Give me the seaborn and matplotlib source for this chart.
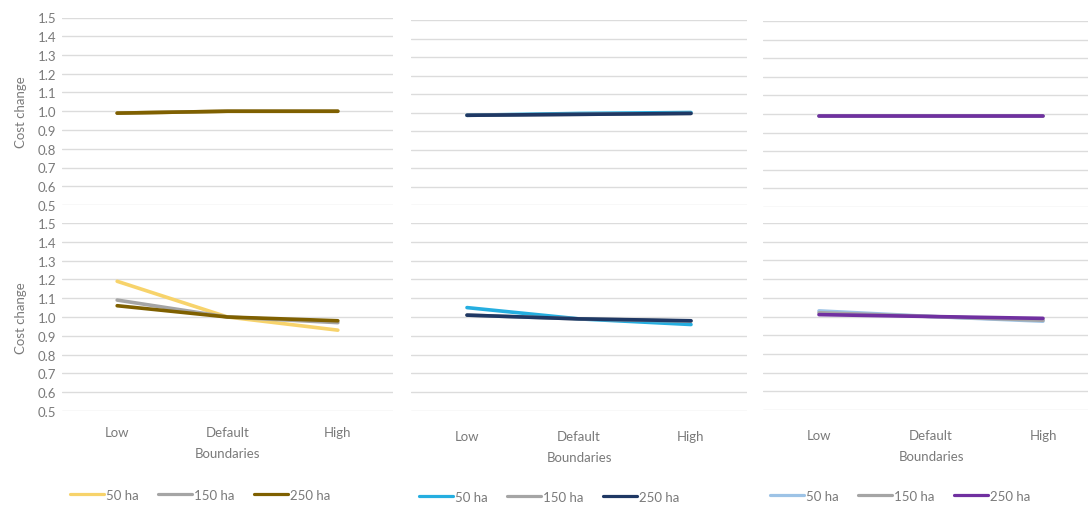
import matplotlib
matplotlib.use("Agg")
import matplotlib.pyplot as plt
from matplotlib.lines import Line2D
import seaborn as sns
import pandas as pd

# Categories
boundaries = ["Low", "Default", "High"]
sizes = ["50 ha", "150 ha", "250 ha"]
y_ticks = [0.5, 0.6, 0.7, 0.8, 0.9, 1.0, 1.1, 1.2, 1.3, 1.4, 1.5]

# Column 1 (gold palette)
c1_top_50 = [0.99, 1.00, 1.00]
c1_top_150 = [0.99, 1.00, 1.00]
c1_top_250 = [0.99, 1.00, 1.00]
c1_bot_50 = [1.19, 1.00, 0.93]
c1_bot_150 = [1.09, 1.00, 0.97]
c1_bot_250 = [1.06, 1.00, 0.98]

# Column 2 (blue palette)
c2_top_50 = [0.985, 0.995, 1.00]
c2_top_150 = [0.985, 0.99, 0.995]
c2_top_250 = [0.985, 0.99, 0.995]
c2_bot_50 = [1.05, 0.99, 0.96]
c2_bot_150 = [1.01, 0.99, 0.978]
c2_bot_250 = [1.01, 0.99, 0.98]

# Column 3 (purple palette)
c3_top_50 = [0.99, 0.99, 0.99]
c3_top_150 = [0.99, 0.99, 0.99]
c3_top_250 = [0.99, 0.99, 0.99]
c3_bot_50 = [1.03, 1.00, 0.975]
c3_bot_150 = [1.02, 1.00, 0.98]
c3_bot_250 = [1.01, 1.00, 0.99]

palettes = [
    ["#F7D36B", "#A5A5A5", "#7F6000"],
    ["#25AEE0", "#A5A5A5", "#1F3864"],
    ["#9DC3E6", "#A5A5A5", "#7030A0"],
]

columns = [
    ([c1_top_50, c1_top_150, c1_top_250], [c1_bot_50, c1_bot_150, c1_bot_250]),
    ([c2_top_50, c2_top_150, c2_top_250], [c2_bot_50, c2_bot_150, c2_bot_250]),
    ([c3_top_50, c3_top_150, c3_top_250], [c3_bot_50, c3_bot_150, c3_bot_250]),
]


def frame(series):
    rows = []
    for size, vals in zip(sizes, series):
        for b, v in zip(boundaries, vals):
            rows.append({"Boundaries": b, "Cost change": v, "Size": size})
    return pd.DataFrame(rows)


sns.set_theme(style="white")
plt.rcParams["font.family"] = ["Lato", "DejaVu Sans"]
TXT = "#7A7A7A"
GRID = "#DCDCDC"

W, H = 1088, 506
fig = plt.figure(figsize=(W / 100, H / 100), dpi=100)


def px_axes(x0, y0, x1, y1):
    return fig.add_axes([x0 / W, 1 - y1 / H, (x1 - x0) / W, (y1 - y0) / H])


# pixel boxes: (left, right, top-of-top, bottom-of-top, top-of-bottom, bottom-of-bottom)
boxes = [
    (62, 393, 18.5, 206, 224, 412),
    (411, 747, 21, 206, 224, 412),
    (763, 1099, 22, 208, 224, 411),
]
legend_centers = [200, 549, 900]
legend_y = [496, 498, 497]


def style_axes(ax, show_y):
    ax.set_ylim(0.5, 1.5)
    ax.set_xlim(-0.5, 2.5)
    ax.set_yticks(y_ticks)
    ax.grid(axis="y", color=GRID, linewidth=1.0)
    ax.grid(axis="x", visible=False)
    ax.set_axisbelow(True)
    for s in ax.spines.values():
        s.set_visible(False)
    ax.tick_params(length=0, colors=TXT, labelsize=9.5, pad=4)
    if show_y:
        ax.set_yticklabels([f"{t:.1f}" for t in y_ticks])
        ax.set_ylabel("Cost change", color=TXT, fontsize=9.5, labelpad=8)
    else:
        ax.set_yticklabels([])
        ax.set_ylabel("")


for ci, ((top, bot), pal, box) in enumerate(zip(columns, palettes, boxes)):
    x0, x1, t0, t1, b0, b1 = box
    ax_top = px_axes(x0, t0, x1, t1)
    ax_bot = px_axes(x0, b0, x1, b1)
    for ax, series in ((ax_top, top), (ax_bot, bot)):
        sns.lineplot(data=frame(series), x="Boundaries", y="Cost change",
                     hue="Size", hue_order=sizes, palette=pal, sort=False,
                     linewidth=2.6, legend=False, ax=ax)
        style_axes(ax, ci == 0)
    ax_top.set_xticks([0, 1, 2])
    ax_top.set_xticklabels([])
    ax_top.set_xlabel("")
    ax_bot.set_xticks([0, 1, 2])
    ax_bot.set_xticklabels(boundaries)
    ax_bot.tick_params(axis="x", pad=11 if ci == 0 else 14)
    ax_bot.set_xlabel("Boundaries", color=TXT, fontsize=9.5, labelpad=6)

    handles = [Line2D([0], [0], color=c, linewidth=2.3) for c in pal]
    fig.legend(handles, sizes, loc="center",
               bbox_to_anchor=(legend_centers[ci] / W, 1 - legend_y[ci] / H),
               ncol=3, frameon=False, fontsize=9.5, handlelength=2.6,
               handletextpad=0.1, columnspacing=1.5, labelcolor=TXT)

fig.savefig("out.png", dpi=100)
